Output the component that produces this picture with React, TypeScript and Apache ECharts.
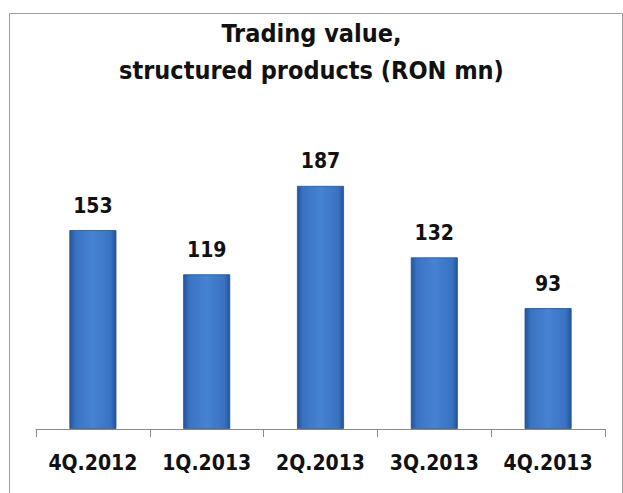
import React, { useEffect, useRef } from "react";
import * as echarts from "echarts";

const categories = ["4Q.2012", "1Q.2013", "2Q.2013", "3Q.2013", "4Q.2013"];
const values = [153, 119, 187, 132, 93];
const titleText = "Trading value,\nstructured products (RON mn)";

const FONT = "'Liberation Sans Narrow', 'Arial Narrow', 'DejaVu Sans Condensed', sans-serif";

export default function App() {
  const ref = useRef<HTMLDivElement>(null);
  useEffect(() => {
    document.body.style.margin = "0";
    const chart = echarts.init(ref.current!, null, { renderer: "svg" });
    const barColor = new echarts.graphic.LinearGradient(0, 0, 1, 0, [
      { offset: 0, color: "#24549a" },
      { offset: 0.12, color: "#3a72c2" },
      { offset: 0.5, color: "#4683d2" },
      { offset: 0.88, color: "#3a72c2" },
      { offset: 1, color: "#24549a" },
    ]);
    chart.setOption({
      animation: false,
      backgroundColor: "#ffffff",
      title: {
        text: titleText,
        left: "center",
        top: 10,
        textStyle: {
          fontFamily: FONT,
          fontWeight: "bold",
          fontSize: 25,
          lineHeight: 37,
          color: "#111111",
        },
      },
      graphic: [
        {
          type: "polyline",
          shape: { points: [[9.5, 493], [9.5, 13.5], [622.5, 13.5], [622.5, 493]] },
          style: { stroke: "#a0a0a0", lineWidth: 1, fill: "none" },
          silent: true,
        },
      ],
      grid: { left: 36, right: 18, top: 169, bottom: 64, containLabel: false },
      xAxis: {
        type: "category",
        data: categories,
        axisLine: { show: true, lineStyle: { color: "#8a8a8a", width: 1 } },
        axisTick: { show: true, alignWithLabel: false, length: 8, lineStyle: { color: "#8a8a8a" } },
        axisLabel: {
          interval: 0,
          margin: 23,
          fontFamily: FONT,
          fontWeight: "bold",
          fontSize: 21,
          color: "#111111",
        },
      },
      yAxis: {
        type: "value",
        min: 0,
        max: 200,
        show: false,
        splitLine: { show: false },
      },
      series: [
        {
          type: "bar",
          data: values,
          barWidth: 47,
          itemStyle: { color: barColor, borderColor: "#23508f", borderWidth: 0.8 },
          label: {
            show: true,
            position: "top",
            distance: 14,
            fontFamily: FONT,
            fontWeight: "bold",
            fontSize: 21,
            color: "#111111",
          },
        },
      ],
    });
    return () => chart.dispose();
  }, []);
  return (
    <div
      ref={ref}
      style={{ position: "fixed", left: 0, top: 0, width: 623, height: 493 }}
    />
  );
}
